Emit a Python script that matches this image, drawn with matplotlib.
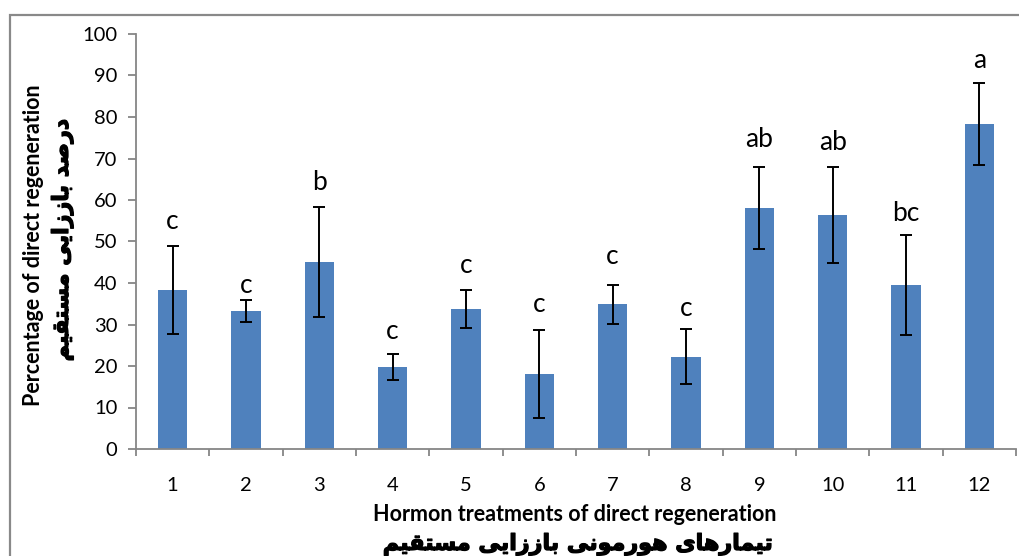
import matplotlib
matplotlib.use("Agg")
import matplotlib.pyplot as plt
import matplotlib.patheffects as pe
from matplotlib.patches import Rectangle

# data
treatments = list(range(1, 13))
means = [38.3, 33.3, 45.1, 19.8, 33.7, 18.1, 34.9, 22.2, 58.0, 56.3, 39.5, 78.3]
errors = [10.5, 2.6, 13.3, 3.2, 4.5, 10.6, 4.7, 6.6, 9.9, 11.6, 12.0, 9.9]
letters = ["c", "c", "b", "c", "c", "c", "c", "c", "ab", "ab", "bc", "a"]
letter_y = [53.0, 37.6, 62.4, 26.5, 42.3, 32.9, 44.5, 32.1, 72.8, 72.0, 55.0, 91.8]
yticks = list(range(0, 101, 10))

xlabel_en = "Hormon treatments of direct regeneration"
xlabel_fa = "تیمارهای هورمونی باززایی مستقیم"
ylabel_en = "Percentage of direct regeneration"
ylabel_fa = "درصد باززایی مستقیم"

# arabic presentation forms: isolated, final, initial, medial
FORMS = {
    'ا': ('\uFE8D', '\uFE8E', None, None),
    'ب': ('\uFE8F', '\uFE90', '\uFE91', '\uFE92'),
    'ت': ('\uFE95', '\uFE96', '\uFE97', '\uFE98'),
    'د': ('\uFEA9', '\uFEAA', None, None),
    'ر': ('\uFEAD', '\uFEAE', None, None),
    'ز': ('\uFEAF', '\uFEB0', None, None),
    'س': ('\uFEB1', '\uFEB2', '\uFEB3', '\uFEB4'),
    'ص': ('\uFEB9', '\uFEBA', '\uFEBB', '\uFEBC'),
    'ق': ('\uFED5', '\uFED6', '\uFED7', '\uFED8'),
    'م': ('\uFEE1', '\uFEE2', '\uFEE3', '\uFEE4'),
    'ن': ('\uFEE5', '\uFEE6', '\uFEE7', '\uFEE8'),
    'ه': ('\uFEE9', '\uFEEA', '\uFEEB', '\uFEEC'),
    'و': ('\uFEED', '\uFEEE', None, None),
    'ی': ('\uFBFC', '\uFBFD', '\uFBFE', '\uFBFF'),
}


# matplotlib has no shaping / bidi, so do it by hand
def shape_fa(text):
    out = []
    for i, ch in enumerate(text):
        if ch not in FORMS:
            out.append(ch)
            continue
        prev = text[i - 1] if i > 0 else ''
        nxt = text[i + 1] if i + 1 < len(text) else ''
        join_prev = prev in FORMS and FORMS[prev][2] is not None
        join_next = FORMS[ch][2] is not None and nxt in FORMS
        iso, fin, ini, med = FORMS[ch]
        if join_prev and join_next:
            out.append(med)
        elif join_prev:
            out.append(fin)
        elif join_next:
            out.append(ini)
        else:
            out.append(iso)
    return ''.join(reversed(out))


plt.rcParams['font.family'] = ['Lato', 'DejaVu Sans']
W, H = 1019, 556
grey = '#868686'
thick = [pe.withStroke(linewidth=0.9, foreground='black')]

fig = plt.figure(figsize=(W / 100, H / 100), dpi=100)
ax = fig.add_axes([136 / W, 1 - 449 / H, 880 / W, 415 / H])

ax.bar(treatments, means, width=0.4, color='#4F81BD', yerr=errors,
       capsize=4.3, error_kw=dict(elinewidth=1.4, capthick=1.4, ecolor='black'))

for x, lab, y in zip(treatments, letters, letter_y):
    ax.text(x, y, lab, ha='center', va='baseline', fontsize=19)

ax.set_xlim(0.5, 12.5)
ax.set_ylim(0, 100)
ax.set_yticks(yticks)
ax.set_xticks(treatments)
ax.set_xticks([t + 0.5 for t in [0] + treatments], minor=True)
ax.tick_params(axis='x', which='major', length=0, pad=20, labelsize=14.5)
ax.tick_params(axis='x', which='minor', length=5, width=1.3, color=grey)
ax.tick_params(axis='y', length=5.5, width=1.3, color=grey, pad=8, labelsize=14.5)

for s in ['top', 'right']:
    ax.spines[s].set_visible(False)
for s in ['left', 'bottom']:
    ax.spines[s].set_color(grey)
    ax.spines[s].set_linewidth(1.3)

# chart area border
fig.patches.append(Rectangle((10 / W, -0.2), 1.2, 1.2 - 15 / H, transform=fig.transFigure,
                             fill=False, edgecolor='#898989', linewidth=1.6))

fig.text(34 / W, 1 - 245 / H, ylabel_en, rotation=90, ha='center', va='center',
         fontsize=15.5, fontweight='bold')
fig.text(62 / W, 1 - 240 / H, shape_fa(ylabel_fa), rotation=90, ha='center', va='center',
         fontsize=16, fontweight='bold', family=['DejaVu Sans'], path_effects=thick)
fig.text(575 / W, 1 - 521 / H, xlabel_en, ha='center', va='baseline',
         fontsize=15.5, fontweight='bold')
fig.text(578 / W, 1 - 550 / H, shape_fa(xlabel_fa), ha='center', va='baseline',
         fontsize=16, fontweight='bold', family=['DejaVu Sans'], path_effects=thick)

fig.savefig("out.png", dpi=100)
